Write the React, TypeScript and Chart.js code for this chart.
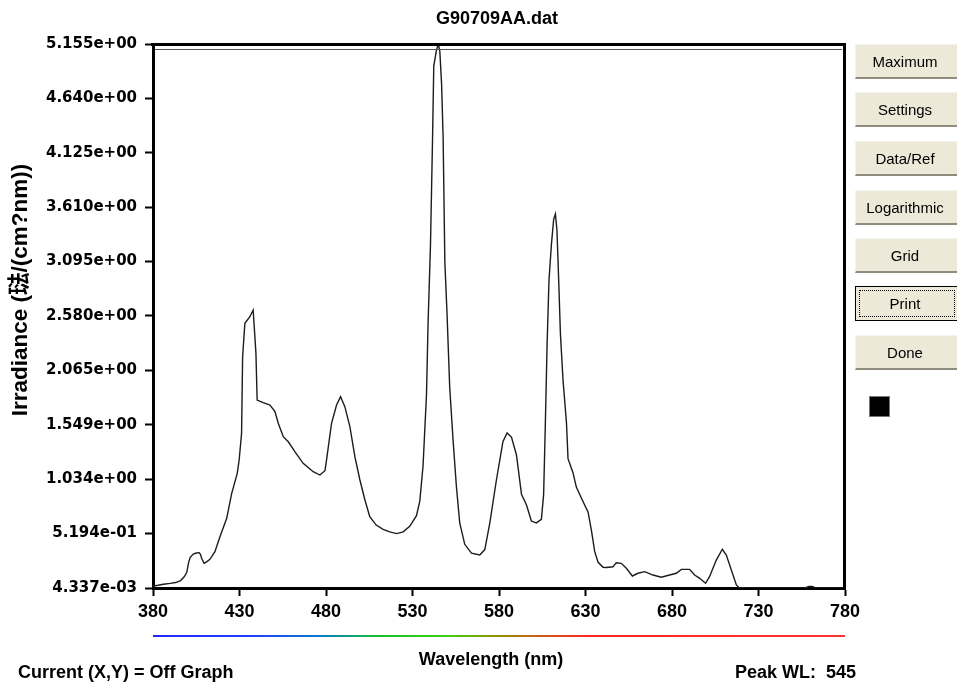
import React, { useEffect, useRef } from "react";
import { Chart, registerables } from "chart.js";

Chart.register(...registerables);

// Spectral irradiance of the lamp sample, wavelength in nm
const WAVELENGTHS = [
  380, 383, 386, 390, 393, 396, 398, 399.5, 400.5, 401.5, 403.3, 405, 406.7, 407.5, 408.1, 409.5, 411, 412.9,
  415.8, 418.7, 422.6, 425.5, 428.7, 429.8, 431.2, 431.8, 433.1, 436.0, 437.9, 439.5, 440.2, 443.7, 447.6,
  450.5, 452.4, 455.3, 458.2, 462.0, 466.8, 472.6, 476.5, 479.4, 480.3, 483.2, 486.1, 488.4, 490.9, 493.8,
  496.7, 499.6, 502.5, 505.3, 509, 513.0, 516.9, 520.8, 524.6, 528.4, 532.3, 534.2, 536.1, 538.1, 539.0,
  540.4, 541.6, 542.3, 543.9, 545.0, 545.8, 546.8, 547.7, 548.7, 550.0, 551.5, 553.5, 555.4, 557.3, 560.2,
  564.1, 568.9, 571.8, 574.7, 578.5, 582.3, 584.7, 587.2, 590.1, 593.0, 595.9, 598.7, 601.6, 604.5, 605.8,
  606.8, 607.8, 608.9, 610.3, 611.6, 612.6, 613.5, 614.5, 615.5, 617.0, 619.0, 619.9, 622.8, 624.7, 627.6,
  631.5, 633.4, 635.3, 637.2, 640.1, 642.1, 645.9, 647.8, 650.7, 653.6, 657.1, 660.3, 664.2, 669.0, 673.8,
  678.6, 682.5, 685.4, 690.2, 693.1, 696.0, 699.4, 701.7, 705.6, 709.1, 711.4, 714.3, 717.2, 719, 757, 759,
  761, 763, 780,
];

const IRRADIANCE = [
  0.023, 0.03, 0.04, 0.048, 0.056, 0.075, 0.11, 0.15, 0.24, 0.295, 0.326, 0.336, 0.339, 0.32, 0.286, 0.238, 0.252, 0.276,
  0.348, 0.49, 0.664, 0.901, 1.09, 1.216, 1.469, 2.194, 2.51, 2.573, 2.636, 2.226, 1.784, 1.759, 1.737,
  1.674, 1.564, 1.437, 1.389, 1.295, 1.185, 1.105, 1.074, 1.115, 1.216, 1.564, 1.737, 1.816, 1.721, 1.532,
  1.248, 1.027, 0.838, 0.679, 0.6, 0.56, 0.535, 0.519, 0.536, 0.588, 0.689, 0.824, 1.162, 1.838, 2.514,
  3.258, 4.273, 4.949, 5.102, 5.155, 5.085, 4.78, 4.273, 3.09, 2.583, 1.907, 1.392, 0.96, 0.621, 0.418,
  0.334, 0.317, 0.368, 0.621, 1.027, 1.392, 1.473, 1.433, 1.264, 0.891, 0.79, 0.638, 0.621, 0.655, 0.891,
  1.568, 2.312, 2.921, 3.258, 3.495, 3.546, 3.394, 2.921, 2.413, 1.974, 1.568, 1.229, 1.094, 0.96, 0.857,
  0.723, 0.553, 0.351, 0.25, 0.2, 0.198, 0.205, 0.244, 0.238, 0.191, 0.118, 0.144, 0.159, 0.127, 0.106,
  0.127, 0.144, 0.181, 0.181, 0.127, 0.096, 0.049, 0.111, 0.269, 0.371, 0.317, 0.175, 0.033, 0.004337, 0.004337, 0.02,
  0.02, 0.004337, 0.004337,
];

const X_TICKS = [380, 430, 480, 530, 580, 630, 680, 730, 780];
const Y_TICKS = [0.004337, 0.5194, 1.034, 1.549, 2.065, 2.58, 3.095, 3.61, 4.125, 4.64, 5.155];

const TITLE = "G90709AA.dat";
const X_TITLE = "Wavelength (nm)";
const Y_TITLE = "Irradiance (琺/(cm?nm))";
const CURSOR_TEXT = "Current (X,Y) = Off Graph";
const PEAK_WL = 545;
const BUTTONS = ["Maximum", "Settings", "Data/Ref", "Logarithmic", "Grid", "Print", "Done"];

// colour band under the wavelength axis
const SPECTRUM_STOPS: [number, string][] = [
  [380, "#2424ff"],
  [440, "#2040ff"],
  [480, "#0a82c0"],
  [510, "#18c030"],
  [550, "#3cd010"],
  [578, "#909400"],
  [602, "#c86018"],
  [632, "#ff2424"],
  [780, "#ff3232"],
];

function sci(v: number): string {
  const [m, e] = v.toExponential(3).split("e");
  const sign = e[0];
  const digits = e.slice(1).padStart(2, "0");
  return `${m}e${sign}${digits}`;
}

const framePlugin = {
  id: "frameDecor",
  afterDatasetsDraw(chart: any) {
    const { ctx, chartArea: a } = chart;
    ctx.save();
    ctx.fillStyle = "#000";
    ctx.fillRect(a.left - 2, a.top - 1, a.right - a.left + 3, 3);
    ctx.fillRect(a.right - 2, a.top - 1, 3, a.bottom - a.top + 2);
    ctx.fillStyle = "#555";
    ctx.fillRect(a.left + 2, a.top + 5, a.right - a.left - 5, 1);
    ctx.restore();
  },
  afterDraw(chart: any) {
    const { ctx } = chart;
    const xs = chart.scales.x;
    const x0 = xs.getPixelForValue(X_TICKS[0]);
    const x1 = xs.getPixelForValue(X_TICKS[X_TICKS.length - 1]);
    ctx.save();
    const g = ctx.createLinearGradient(x0, 0, x1, 0);
    SPECTRUM_STOPS.forEach(([nm, c]) => g.addColorStop((nm - 380) / 400, c));
    ctx.fillStyle = g;
    ctx.fillRect(x0, 635, x1 - x0, 2);

    ctx.translate(21, 290);
    ctx.rotate(-Math.PI / 2);
    ctx.fillStyle = "#000";
    ctx.textAlign = "center";
    ctx.textBaseline = "middle";
    ctx.font = 'bold 22.5px "Liberation Sans", "Noto Sans CJK TC", sans-serif';
    ctx.fillText(Y_TITLE, 0, 0);
    ctx.restore();
  },
};

const labelFont = '"Liberation Sans", Arial, sans-serif';

export default function App() {
  const canvasRef = useRef<HTMLCanvasElement | null>(null);

  useEffect(() => {
    if (!canvasRef.current) return;
    const points = WAVELENGTHS.map((x, i) => ({ x, y: IRRADIANCE[i] }));
    const chart = new Chart(canvasRef.current, {
      type: "line",
      data: {
        datasets: [
          {
            data: points,
            borderColor: "#1c1c1c",
            borderWidth: 1.4,
            pointRadius: 0,
            tension: 0,
            fill: false,
          },
        ],
      },
      options: {
        animation: false,
        responsive: false,
        events: [],
        layout: { padding: { top: 44, right: 112, bottom: 0, left: 0 } },
        plugins: {
          legend: { display: false },
          tooltip: { enabled: false },
          title: { display: false },
        },
        scales: {
          x: {
            type: "linear",
            min: 380,
            max: 780,
            afterBuildTicks: (s: any) => {
              s.ticks = X_TICKS.map((v) => ({ value: v }));
            },
            afterFit: (s: any) => {
              s.height = 98;
            },
            ticks: {
              autoSkip: false,
              maxRotation: 0,
              padding: 5,
              color: "#000",
              font: { family: "Liberation Sans", size: 18, weight: "bold" },
              callback: (v: any) => String(v),
            },
            grid: {
              drawOnChartArea: false,
              drawTicks: true,
              tickLength: 8,
              tickWidth: 2,
              tickColor: "#000",
            },
            border: { display: true, color: "#000", width: 3 },
          },
          y: {
            type: "linear",
            min: Y_TICKS[0],
            max: Y_TICKS[Y_TICKS.length - 1],
            afterBuildTicks: (s: any) => {
              s.ticks = Y_TICKS.map((v) => ({ value: v }));
            },
            afterFit: (s: any) => {
              s.width = 153;
            },
            ticks: {
              autoSkip: false,
              padding: 8,
              color: "#000",
              font: { family: "DejaVu Sans", size: 15, weight: "bold" },
              callback: (v: any) => sci(Number(v)),
            },
            grid: {
              drawOnChartArea: false,
              drawTicks: true,
              tickLength: 8,
              tickWidth: 2,
              tickColor: "#000",
            },
            border: { display: true, color: "#000", width: 3 },
          },
        },
      },
      plugins: [framePlugin],
    } as any);
    return () => chart.destroy();
  }, []);

  const textStyle: React.CSSProperties = {
    position: "absolute",
    fontFamily: labelFont,
    fontWeight: "bold",
    fontSize: 18,
    lineHeight: "18px",
    color: "#000",
    whiteSpace: "pre",
  };

  const buttonTops = [44, 92, 141, 190, 238, 286, 335];

  return (
    <div
      style={{
        position: "absolute",
        left: 0,
        top: 0,
        width: 957,
        height: 686,
        background: "#fff",
        overflow: "hidden",
      }}
    >
      <canvas
        ref={canvasRef}
        width={957}
        height={686}
        style={{ position: "absolute", left: 0, top: 0, width: 957, height: 686 }}
      />
      <div style={{ ...textStyle, left: 397, top: 9, width: 200, textAlign: "center" }}>{TITLE}</div>
      <div style={{ ...textStyle, left: 391, top: 650, width: 200, textAlign: "center" }}>{X_TITLE}</div>
      <div style={{ ...textStyle, left: 18, top: 663 }}>{CURSOR_TEXT}</div>
      <div style={{ ...textStyle, left: 735, top: 663 }}>{`Peak WL:  ${PEAK_WL}`}</div>
      {BUTTONS.map((label, i) => {
        const focused = label === "Print";
        return (
          <div
            key={label}
            style={{
              position: "absolute",
              left: 855,
              top: buttonTops[i],
              width: 103,
              height: 35,
              boxSizing: "border-box",
              background: "#ece9d8",
              borderBottom: focused ? "1px solid #000" : "2px solid #8f8c7e",
              borderTop: focused ? "1px solid #000" : "1px solid #f4f3ee",
              borderLeft: focused ? "1px solid #000" : "1px solid #f4f3ee",
              fontFamily: labelFont,
              fontSize: 15,
              color: "#000",
              display: "flex",
              alignItems: "center",
              justifyContent: "center",
            }}
          >
            {focused && (
              <div
                style={{
                  position: "absolute",
                  left: 3,
                  top: 3,
                  right: 3,
                  bottom: 3,
                  border: "1px dotted #000",
                }}
              />
            )}
            <span style={{ position: "relative", left: -2 }}>{label}</span>
          </div>
        );
      })}
      <div
        style={{
          position: "absolute",
          left: 869,
          top: 396,
          width: 21,
          height: 21,
          boxSizing: "border-box",
          background: "#000",
          border: "1px solid #777",
        }}
      />
    </div>
  );
}
